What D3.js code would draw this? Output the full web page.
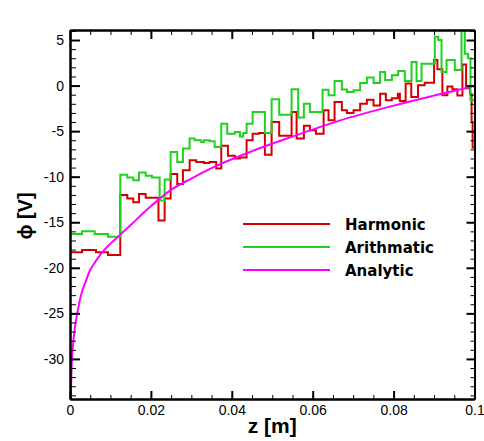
<!DOCTYPE html>
<html>
<head>
<meta charset="utf-8">
<script src="https://cdn.jsdelivr.net/npm/d3@7"></script>
<style>
    body { margin: 0; background: #fff; }
    .phi_chart text { font-family: "Liberation Sans", Arial, Helvetica, sans-serif; }
    .phi_chart .legend text { font-family: "DejaVu Sans", Verdana, sans-serif; }
</style>
</head>
<body>
<div class="phi_chart"></div>
<script>
// axis ticks
var zTicks = [0, 0.02, 0.04, 0.06, 0.08, 0.1];
var zTickLabels = ["0", "0.02", "0.04", "0.06", "0.08", "0.1"];
var phiTicks = [5, 0, -5, -10, -15, -20, -25, -30];
var phiTickLabels = ["5", "0", "-5", "-10", "-15", "-20", "-25", "-30"];

var seriesNames = ["Harmonic", "Arithmatic", "Analytic"];

// step series: value holds from z[i] until z[i+1]
var harmonicZ = [0, 0.00297, 0.00642, 0.00939, 0.01243, 0.01416, 0.01564, 0.01705, 0.01871, 0.02187, 0.0234,
    0.02488, 0.02651, 0.02792, 0.02958, 0.03121, 0.03311, 0.03452, 0.03615, 0.03739, 0.03904, 0.04077, 0.04201,
    0.04366, 0.04515, 0.04678, 0.04818, 0.04984, 0.05172, 0.05478, 0.05602, 0.05782, 0.0593, 0.06079, 0.0627,
    0.06392, 0.06541, 0.06721, 0.06845, 0.0701, 0.07173, 0.07339, 0.07504, 0.07667, 0.07808, 0.07957, 0.08105,
    0.08155, 0.08298, 0.08437, 0.08603, 0.08768, 0.09001, 0.09083, 0.09206, 0.0933, 0.09454, 0.09577, 0.09701,
    0.09792, 0.09891, 0.09928, 0.09953, 0.1];
var harmonicPhi = [-18.3, -18.06, -18.3, -18.6, -12.0, -12.4, -12.8, -11.9, -12.3, -14.8, -12.4,
    -9.7, -10.8, -9.3, -8.2, -8.4, -8.5, -8.4, -9.1, -6.6, -7.7, -8.0, -7.9,
    -6.0, -5.3, -5.2, -7.6, -4.0, -5.5, -2.9, -5.8, -4.4, -4.9, -5.3, -2.7,
    -3.8, -1.8, -2.7, -3.0, -2.7, -2.0, -1.55, -2.2, -0.9, -1.6, -1.4, -0.9,
    -1.7, 0.22, -1.25, 0.03, 0.3, 2.8, 1.8, -1.07, -0.1, -0.4, -1.1, 2.3,
    -0.3, -0.9, -4.0, -6.8, -6.8];

var arithmaticZ = [0, 0.00297, 0.0061, 0.00939, 0.01243, 0.01416, 0.01564, 0.01705, 0.01871, 0.02026, 0.02216,
    0.0234, 0.02488, 0.02651, 0.02792, 0.02958, 0.03081, 0.03244, 0.03311, 0.03452, 0.03576, 0.03739, 0.03887,
    0.04077, 0.04201, 0.04282, 0.04366, 0.04515, 0.04818, 0.04984, 0.05172, 0.05478, 0.05641, 0.05782, 0.0593,
    0.06244, 0.06392, 0.06541, 0.06721, 0.06845, 0.0701, 0.07173, 0.07339, 0.07504, 0.07667, 0.07791, 0.07957,
    0.08112, 0.08278, 0.08443, 0.08567, 0.0869, 0.09019, 0.091, 0.09185, 0.09308, 0.09513, 0.09679, 0.0976,
    0.09842, 0.09901, 0.1];
var arithmaticPhi = [-16.3, -16.0, -16.3, -16.6, -9.8, -10.1, -10.4, -9.55, -9.9, -10.1, -12.6,
    -10.3, -7.3, -8.4, -6.9, -5.8, -6.0, -6.2, -6.0, -6.1, -6.75, -4.2, -5.3,
    -5.1, -5.6, -5.2, -4.2, -2.9, -5.2, -1.5, -3.2, -0.4, -3.5, -2.0, -2.9,
    -0.45, -1.07, 0.5, -0.44, -0.7, -0.52, 0.29, 0.88, 0.29, 1.5, 0.6, 1.13,
    1.6, 0.5, 2.6, 0.5, 2.4, 5.35, 5.0, 1.5, 2.8, 1.7, 7.5, 3.5,
    3.0, -1.6, -1.6];

// smooth analytic solution
var analyticZ = [0.0001, 0.0002, 0.00037, 0.00049, 0.00074, 0.00111, 0.0018, 0.00272, 0.00396, 0.00494,
    0.00618, 0.00742, 0.00865, 0.00989, 0.01187, 0.015, 0.0201, 0.0248, 0.03, 0.0355, 0.045, 0.055, 0.0668,
    0.08, 0.09, 0.099, 0.1];
var analyticPhi = [-36.5, -34.4, -31.25, -30.0, -28.5, -26.9, -25.0, -23.0, -21.4, -20.3,
    -19.4, -18.6, -17.95, -17.4, -16.6, -15.3, -13.2, -11.5, -10.2, -8.96, -7.2, -5.6, -3.82,
    -2.2, -1.1, -0.15, -0.05];


function PhiChart(selector) {

    var div_width = 484;
    var div_height = 441;
    var margin = { left: 70, top: 30, right: 9.5, bottom: 42 };
    var width = div_width - margin.left - margin.right;
    var height = div_height - margin.top - margin.bottom;

    var colors = ["#d20000", "#1fd21f", "#ff00ff"];

    var svg = d3.select(selector).append("svg")
        .attr("width", div_width)
        .attr("height", div_height);

    var g = svg.append("g")
        .attr("transform", "translate(" + margin.left + "," + margin.top + ")");

    var x = d3.scaleLinear().domain([0, 0.1]).range([0, width]);
    var y = d3.scaleLinear().domain([-34.4, 6.1]).range([height, 0]);

    g.append("clipPath").attr("id", "plot_clip")
        .append("rect").attr("width", width).attr("height", height);

    var stepLine = d3.line()
        .x(function (d) { return x(d[0]); })
        .y(function (d) { return y(d[1]); })
        .curve(d3.curveStepAfter);

    var smoothLine = d3.line()
        .x(function (d) { return x(d[0]); })
        .y(function (d) { return y(d[1]); })
        .curve(d3.curveMonotoneX);

    var harmonic = harmonicZ.map(function (z, i) { return [z, harmonicPhi[i]]; });
    var arithmatic = arithmaticZ.map(function (z, i) { return [z, arithmaticPhi[i]]; });
    var analytic = analyticZ.map(function (z, i) { return [z, analyticPhi[i]]; });

    var lines = g.append("g").attr("clip-path", "url(#plot_clip)");

    lines.append("path").datum(harmonic)
        .attr("d", stepLine)
        .attr("fill", "none").attr("stroke", colors[0]).attr("stroke-width", 2);

    lines.append("path").datum(arithmatic)
        .attr("d", stepLine)
        .attr("fill", "none").attr("stroke", colors[1]).attr("stroke-width", 2);

    lines.append("path").datum(analytic)
        .attr("d", smoothLine)
        .attr("fill", "none").attr("stroke", colors[2]).attr("stroke-width", 2);

    // minor ticks
    var zMinor = d3.range(0, 0.1001, 0.005);
    var phiMinor = d3.range(-34, 6.5, 1);

    g.append("g").attr("transform", "translate(0," + height + ")")
        .call(d3.axisBottom(x).tickValues(zMinor).tickSizeInner(-4).tickSizeOuter(0).tickFormat(""));
    g.append("g")
        .call(d3.axisTop(x).tickValues(zMinor).tickSizeInner(-5).tickSizeOuter(0).tickFormat(""));
    g.append("g")
        .call(d3.axisLeft(y).tickValues(phiMinor).tickSizeInner(-6).tickSizeOuter(0).tickFormat(""));
    g.append("g").attr("transform", "translate(" + width + ",0)")
        .call(d3.axisRight(y).tickValues(phiMinor).tickSizeInner(-4).tickSizeOuter(0).tickFormat(""));

    // major ticks
    g.append("g").attr("class", "major").attr("transform", "translate(0," + height + ")")
        .call(d3.axisBottom(x).tickValues(zTicks).tickSizeInner(-8).tickSizeOuter(0).tickPadding(6)
            .tickFormat(function (d, i) { return zTickLabels[i]; }));
    g.append("g").attr("class", "major")
        .call(d3.axisTop(x).tickValues(zTicks).tickSizeInner(-9).tickSizeOuter(0).tickFormat(""));
    g.append("g").attr("class", "major")
        .call(d3.axisLeft(y).tickValues(phiTicks).tickSizeInner(-10).tickSizeOuter(0).tickPadding(6)
            .tickFormat(function (d, i) { return phiTickLabels[i]; }));
    g.append("g").attr("class", "major").attr("transform", "translate(" + width + ",0)")
        .call(d3.axisRight(y).tickValues(phiTicks).tickSizeInner(-8).tickSizeOuter(0).tickFormat(""));

    g.selectAll(".domain").attr("stroke", "#000").attr("stroke-width", 2);
    g.selectAll(".tick line").attr("stroke", "#000").attr("stroke-width", 1);
    g.selectAll(".major .tick line").attr("stroke-width", 2);
    g.selectAll(".tick text").attr("fill", "#000").style("font-size", "14px");

    // axis titles
    svg.append("text")
        .attr("x", margin.left + width / 2)
        .attr("y", 433)
        .attr("text-anchor", "middle")
        .style("font-size", "21px").style("font-weight", "bold")
        .text("z [m]");

    svg.append("text")
        .attr("transform", "translate(32,216) rotate(-90)")
        .attr("text-anchor", "middle")
        .style("font-size", "20px").style("font-weight", "bold")
        .text("\u03d5 [V]");

    // legend
    var legend = svg.append("g").attr("class", "legend").attr("transform", "translate(243,224)");
    for (var i = 0; i < seriesNames.length; i++) {
        legend.append("line")
            .attr("x1", 0).attr("x2", 87)
            .attr("y1", i * 23).attr("y2", i * 23)
            .attr("stroke", colors[i]).attr("stroke-width", 2);
        legend.append("text")
            .attr("x", 102).attr("y", i * 23 + 5.5)
            .style("font-size", "15px").style("font-weight", "bold")
            .text(seriesNames[i]);
    }
}

PhiChart(".phi_chart");
</script>
</body>
</html>
